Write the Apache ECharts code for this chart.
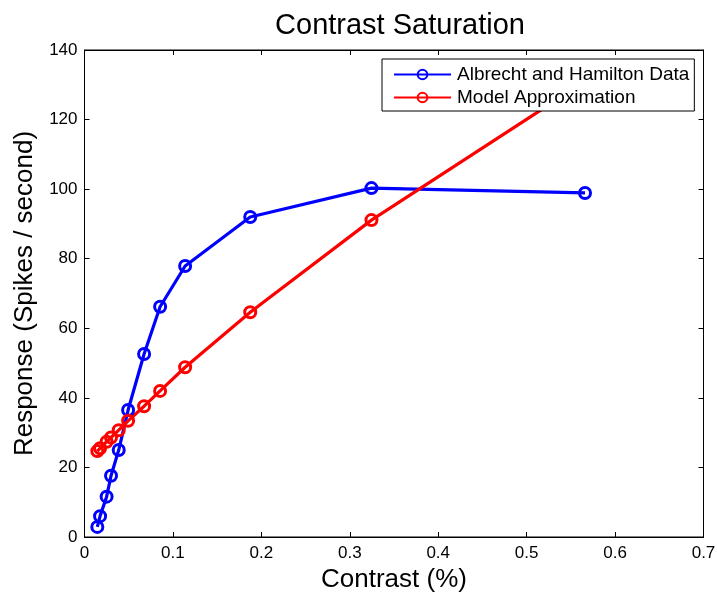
<!DOCTYPE html>
<html>
<head>
<meta charset="utf-8">
<script src="https://cdn.jsdelivr.net/npm/echarts@6/dist/echarts.min.js"></script>
<style>
  html, body { margin: 0; padding: 0; background: #fff; }
  #chart { width: 717px; height: 597px; }
</style>
</head>
<body>
<div id="chart"></div>
<script>
// Stimulus contrast levels (fraction)
const contrast = [0.0145, 0.0176, 0.025, 0.030, 0.0387, 0.0493, 0.0674, 0.0855, 0.1138, 0.1874, 0.3245, 0.566];
// Measured firing rates (Albrecht & Hamilton)
const measured = [2.9, 6.0, 11.6, 17.6, 25.0, 36.5, 52.6, 66.2, 77.9, 92.0, 100.3, 98.9];
// Model prediction at the same contrasts
const model = [24.7, 25.5, 27.4, 28.6, 30.7, 33.4, 37.6, 42.0, 48.8, 64.6, 91.1, 131.0];

const seriesNames = ['Albrecht and Hamilton Data', 'Model Approximation'];
const xTicks = { min: 0, max: 0.7, step: 0.1 };
const yTicks = { min: 0, max: 140, step: 20 };

const FONT = '"Liberation Sans", Arial, Helvetica, sans-serif';
const pairs = (xs, ys) => xs.map((x, i) => [x, ys[i]]);

const chart = echarts.init(document.getElementById('chart'), null, { renderer: 'canvas' });

const inTicks = { show: true, inside: true, length: 5, lineStyle: { color: '#000', width: 1 } };

// Hollow circle markers with the line running through them
function lineSeries(name, color, values) {
  return {
    name: name,
    type: 'line',
    data: pairs(contrast, values),
    symbol: 'circle',
    symbolSize: 11,
    showSymbol: true,
    clip: true,
    lineStyle: { color: color, width: 3.2 },
    itemStyle: { color: 'rgba(0,0,0,0)', borderColor: color, borderWidth: 3 },
    emphasis: { disabled: true },
    z: 2
  };
}

chart.setOption({
  animation: false,
  backgroundColor: '#fff',
  textStyle: { fontFamily: FONT },
  title: {
    text: 'Contrast Saturation',
    left: 395, top: 6, textAlign: 'center',
    textStyle: { fontFamily: FONT, fontSize: 29, fontWeight: 'normal', color: '#000' }
  },
  legend: {
    orient: 'vertical',
    left: 382, top: 59,
    padding: [6, 5, 4, 11],
    itemGap: 4,
    itemWidth: 57,
    itemHeight: 12,
    backgroundColor: '#fff',
    borderColor: '#000',
    borderWidth: 1,
    borderRadius: 0,
    textStyle: { fontFamily: FONT, fontSize: 19, color: '#000', padding: [0, 0, 0, 1] },
    data: seriesNames,
    z: 10
  },
  grid: {
    left: 84.5, right: 13.5, top: 50, bottom: 60,
    outerBoundsMode: 'none',
    containLabel: false,
    show: true, borderColor: '#000', borderWidth: 1, backgroundColor: '#fff'
  },
  xAxis: [{
    type: 'value', position: 'bottom',
    min: xTicks.min, max: xTicks.max, interval: xTicks.step,
    name: 'Contrast (%)', nameLocation: 'middle', nameGap: 30,
    nameTextStyle: { fontFamily: FONT, fontSize: 26, color: '#000' },
    axisLine: { show: true, onZero: false, lineStyle: { color: '#000', width: 1 } },
    axisTick: inTicks,
    axisLabel: { fontFamily: FONT, fontSize: 17, color: '#000', margin: 8, showMinLabel: true, showMaxLabel: true },
    splitLine: { show: false }
  }, {
    type: 'value', position: 'top',
    min: xTicks.min, max: xTicks.max, interval: xTicks.step,
    axisLine: { show: true, onZero: false, lineStyle: { color: '#000', width: 1 } },
    axisTick: inTicks,
    axisLabel: { show: false },
    splitLine: { show: false }
  }],
  yAxis: [{
    type: 'value', position: 'left',
    min: yTicks.min, max: yTicks.max, interval: yTicks.step,
    name: 'Response (Spikes / second)', nameLocation: 'middle', nameGap: 47,
    nameTextStyle: { fontFamily: FONT, fontSize: 26, color: '#000' },
    axisLine: { show: true, onZero: false, lineStyle: { color: '#000', width: 1 } },
    axisTick: inTicks,
    axisLabel: { fontFamily: FONT, fontSize: 17, color: '#000', margin: 7 },
    splitLine: { show: false }
  }, {
    type: 'value', position: 'right',
    min: yTicks.min, max: yTicks.max, interval: yTicks.step,
    axisLine: { show: true, onZero: false, lineStyle: { color: '#000', width: 1 } },
    axisTick: inTicks,
    axisLabel: { show: false },
    splitLine: { show: false }
  }],
  series: [
    lineSeries(seriesNames[0], '#0000ff', measured),
    lineSeries(seriesNames[1], '#ff0000', model)
  ]
});
</script>
</body>
</html>
